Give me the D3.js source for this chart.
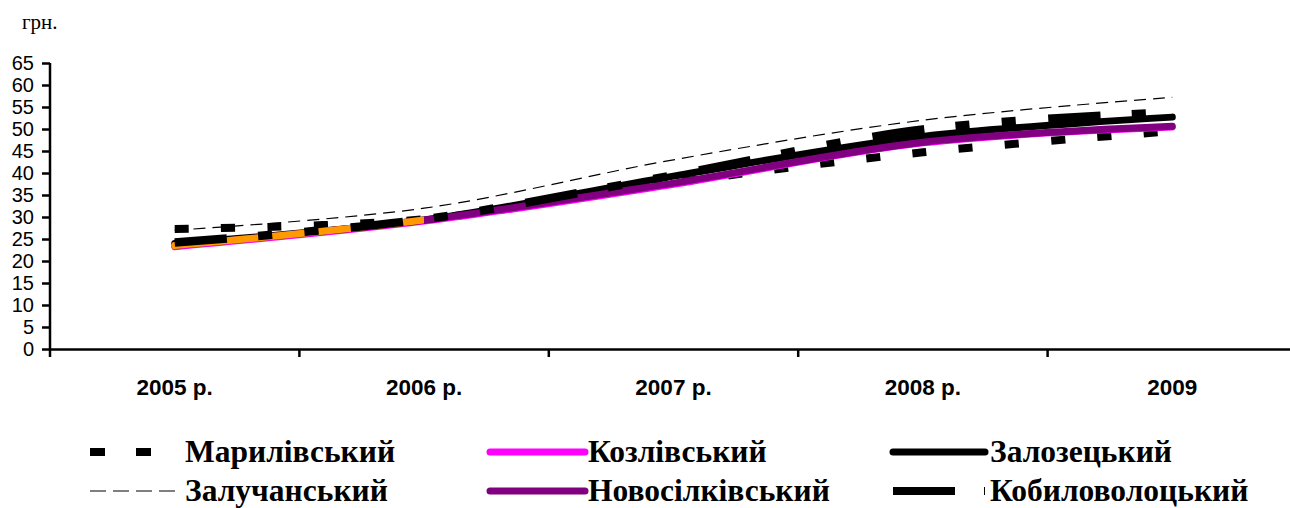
<!DOCTYPE html>
<html><head><meta charset="utf-8">
<script src="https://cdn.jsdelivr.net/npm/d3@7"></script>
<style>body{margin:0;background:#fff}svg{display:block}</style>
</head><body>
<svg id="c" width="1290" height="508"></svg>
<script>
const categories = ["2005 р.", "2006 р.", "2007 р.", "2008 р.", "2009"];
const yTicks = [0,5,10,15,20,25,30,35,40,45,50,55,60,65];
const seriesNames = ["Марилівський","Козлівський","Залозецький","Залучанський","Новосілківський","Кобиловолоцький"];
const marylivsky    = [27.3, 29.5, 37.8, 44.7, 49.5];
const kozlivsky     = [23.2, 29.0, 37.4, 46.8, 50.4];
const zalozetsky    = [24.0, 29.3, 39.3, 48.3, 52.7];
const zaluchansky   = [27.0, 32.0, 43.0, 52.0, 57.2];
const novosilkivsky = [23.5, 29.3, 37.7, 47.0, 50.6];
const kobylovolotsky= [24.2, 29.5, 39.5, 49.9, 53.8];
const seriesValues = [marylivsky, kozlivsky, zalozetsky, zaluchansky, novosilkivsky, kobylovolotsky];

const styles = [
  {color:"#000", width:8, dash:"14.1,32.3", cap:"butt", legDash:"15,31", legW:8},
  {color:"#FF00FF", width:6.5, dash:null, cap:"round", legW:7},
  {color:"#000", width:7, dash:null, cap:"round", legW:7},
  {color:"#000", width:1.2, dash:"12,7", cap:"butt", legDash:"16,7", legW:1},
  {color:"#800080", width:7, dash:null, cap:"round", firstSeg:"#FF9900", legW:7},
  {color:"#000", width:8.5, dash:"52.5,31.3,14.1,32.3,14.1,32.3", cap:"butt", legDash:"62,29,2.5,40", legW:8}
];

const svg = d3.select("#c");
const x = d3.scaleBand().domain(categories).range([50, 1297]);
const y = d3.scaleLinear().domain([0, 65]).range([349, 63]);
const cx = c => x(c) + x.bandwidth()/2;

// y axis
const yAxis = svg.append("g").attr("transform","translate(50,0)")
  .call(d3.axisLeft(y).tickValues(yTicks).tickSize(8).tickPadding(8).tickFormat(d3.format("d")));
yAxis.select(".domain").attr("stroke","#000").attr("stroke-width",2.5).attr("d","M-0,63V349");
yAxis.selectAll(".tick line").attr("stroke","#000").attr("stroke-width",2.5);
yAxis.selectAll(".tick text").attr("font-family","Arial, 'Liberation Sans', sans-serif").attr("font-size",20).attr("fill","#000");

// x axis
const xAxis = svg.append("g").attr("transform","translate(0,349)")
  .call(d3.axisBottom(x).tickSize(0).tickPadding(30));
xAxis.select(".domain").attr("stroke","#000").attr("stroke-width",2.5);
xAxis.selectAll(".tick text").attr("font-family","Arial, 'Liberation Sans', sans-serif").attr("font-size",22.5).attr("font-weight","bold").attr("fill","#000");
const bounds = categories.map(c => x(c)).concat([x.range()[1]]);
xAxis.selectAll(".bt").data(bounds).enter().append("line")
  .attr("x1",d=>d).attr("x2",d=>d).attr("y1",0).attr("y2",8)
  .attr("stroke","#000").attr("stroke-width",2.5);

// unit label
svg.append("text").attr("x",22).attr("y",29).text("грн.")
  .attr("font-family","'Liberation Serif','Times New Roman',serif").attr("font-size",21);

// lines
const line = d3.line().x((d,i)=>cx(categories[i])).y(d=>y(d)).curve(d3.curveCatmullRom.alpha(0.5));
seriesValues.forEach((vals, si) => {
  const s = styles[si];
  const p = svg.append("path").attr("d", line(vals)).attr("fill","none")
    .attr("stroke", s.color).attr("stroke-width", s.width)
    .attr("stroke-linecap", s.cap).attr("stroke-linejoin","round");
  if (s.dash) p.attr("stroke-dasharray", s.dash);
  if (s.firstSeg) {
    const id = "clip"+si;
    svg.append("clipPath").attr("id",id).append("rect")
      .attr("x",0).attr("y",0).attr("width",cx(categories[1])).attr("height",508);
    svg.append("path").attr("d", line(vals)).attr("fill","none")
      .attr("stroke", s.firstSeg).attr("stroke-width", s.width)
      .attr("stroke-linecap","round").attr("clip-path","url(#"+id+")");
  }
});

// legend
const legCols = [{sx:90, ex:152, tx:185},{sx:490, ex:585, tx:588},{sx:893, ex:985, tx:990}];
const legRows = [462, 501];
seriesNames.forEach((name, i) => {
  const col = legCols[i % 3], row = legRows[Math.floor(i/3)];
  const s = styles[i];
  const ly = row - 10;
  const ex = (i===3) ? 181 : col.ex;
  const l = svg.append("line").attr("x1",col.sx).attr("x2",ex).attr("y1",ly).attr("y2",ly)
    .attr("stroke",s.color).attr("stroke-width", s.legW)
    .attr("stroke-linecap", s.cap);
  if (s.legDash) l.attr("stroke-dasharray", s.legDash);
  svg.append("text").attr("x",col.tx).attr("y",row).text(name)
    .attr("font-family","'Liberation Serif','Times New Roman',serif")
    .attr("font-size",31.5).attr("font-weight","bold").attr("fill","#000");
});
</script>
</body></html>
